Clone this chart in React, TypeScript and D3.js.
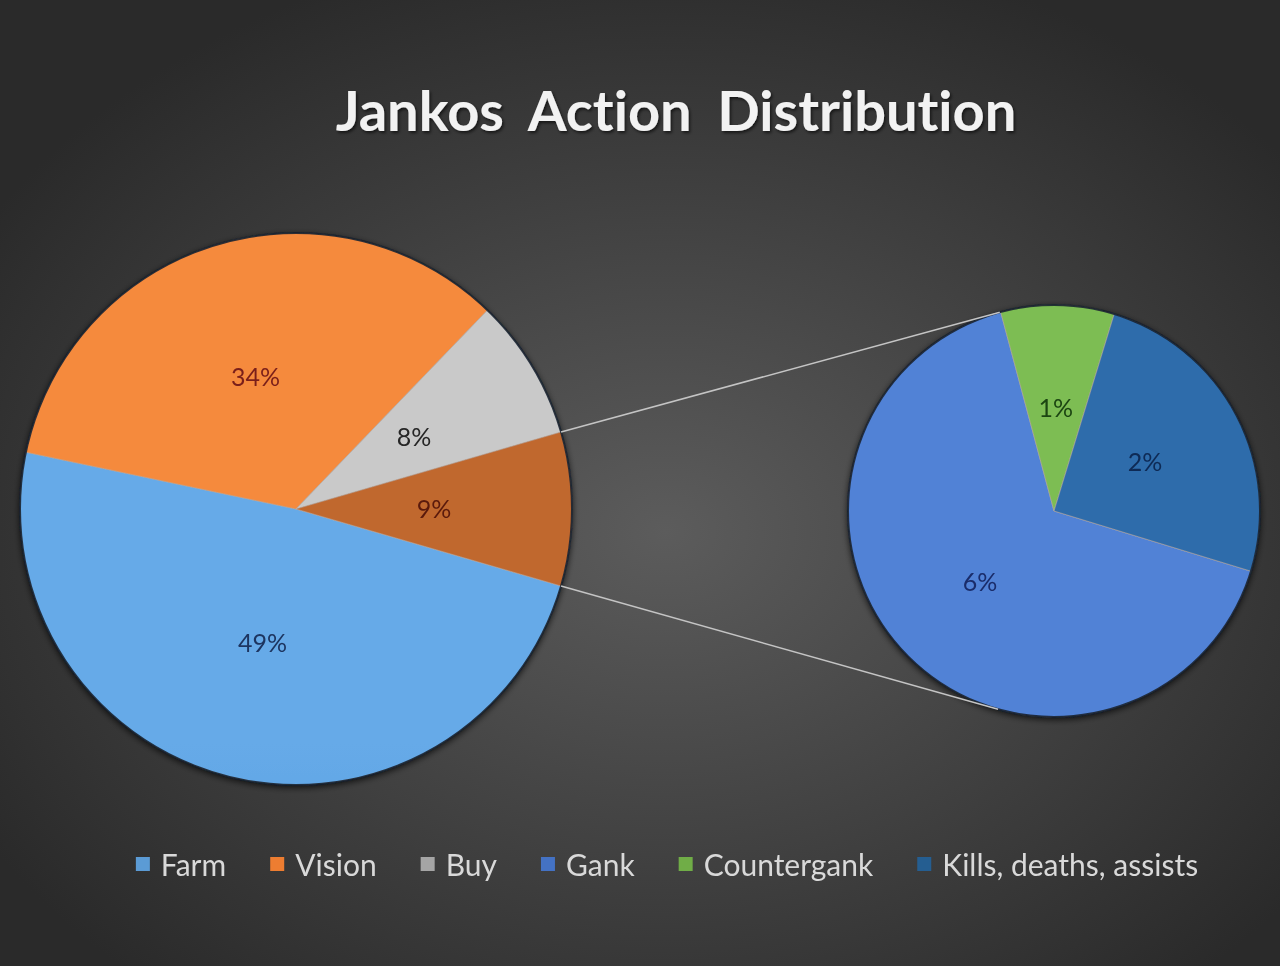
import React, { useEffect, useRef } from "react";
import * as d3 from "d3";

// Main pie: the last entry is the combined "other" slice split out into the secondary pie.
const mainCategories = ["Farm", "Vision", "Buy", "Other"];
const mainValues = [48.8, 33.9, 8.3, 9.0];

// Secondary pie: breakdown of the "other" slice.
const subCategories = ["Gank", "Countergank", "Kills, deaths, assists"];
const subValues = [5.95, 0.8, 2.25];

const legendLabels = ["Farm", "Vision", "Buy", "Gank", "Countergank", "Kills, deaths, assists"];

const W = 1280;
const H = 966;
const DEG = Math.PI / 180;

const mainColors: Record<string, [string, string]> = {
  Farm: ["#66aae8", "#468cd6"],
  Vision: ["#f58a3e", "#eb731d"],
  Buy: ["#c9c9c9", "#a8a8a8"],
  Other: ["#c0672f", "#ad4403"],
};
const subColors: Record<string, [string, string]> = {
  Gank: ["#5182d6", "#3a67c3"],
  Countergank: ["#7dbd53", "#67a73b"],
  "Kills, deaths, assists": ["#2f6cab", "#1d5592"],
};
const legendColors: Record<string, string> = {
  Farm: "#5b9bd5",
  Vision: "#ed7d31",
  Buy: "#a5a5a5",
  Gank: "#4472c4",
  Countergank: "#70ad47",
  "Kills, deaths, assists": "#255e91",
};
const labelColors: Record<string, string> = {
  Farm: "#1d3560",
  Vision: "#7a1f1a",
  Buy: "#262626",
  Other: "#5a1a0c",
  Gank: "#1a2c6a",
  Countergank: "#1c4512",
  "Kills, deaths, assists": "#0e2a55",
};

const FONT = "Lato, 'Open Sans', sans-serif";

export default function App() {
  const ref = useRef<SVGSVGElement | null>(null);

  useEffect(() => {
    const svg = d3.select(ref.current);
    svg.selectAll("*").remove();

    const defs = svg.append("defs");
    const bg = defs
      .append("radialGradient")
      .attr("id", "bg")
      .attr("cx", "52%")
      .attr("cy", "55%")
      .attr("r", "62%");
    bg.append("stop").attr("offset", "0%").attr("stop-color", "#5c5c5c");
    bg.append("stop").attr("offset", "100%").attr("stop-color", "#2a2a2a");

    const shadow = defs.append("filter").attr("id", "pieShadow").attr("x", "-10%").attr("y", "-10%").attr("width", "120%").attr("height", "120%");
    shadow.append("feGaussianBlur").attr("in", "SourceAlpha").attr("stdDeviation", 3).attr("result", "b");
    shadow.append("feOffset").attr("in", "b").attr("dx", 0).attr("dy", 2).attr("result", "o");
    shadow.append("feComponentTransfer").attr("in", "o").attr("result", "s")
      .append("feFuncA").attr("type", "linear").attr("slope", 0.7);
    const sm = shadow.append("feMerge");
    sm.append("feMergeNode").attr("in", "s");
    sm.append("feMergeNode").attr("in", "SourceGraphic");

    const tshadow = defs.append("filter").attr("id", "titleShadow").attr("x", "-5%").attr("y", "-20%").attr("width", "110%").attr("height", "150%");
    tshadow.append("feDropShadow").attr("dx", 1.5).attr("dy", 2).attr("stdDeviation", 1.5).attr("flood-color", "#000").attr("flood-opacity", 0.6);

    svg.append("rect").attr("width", W).attr("height", H).attr("fill", "url(#bg)");

    // Title
    svg
      .append("text")
      .attr("x", 676)
      .attr("y", 131)
      .attr("text-anchor", "middle")
      .attr("font-family", FONT)
      .attr("font-weight", 700)
      .attr("font-size", 56)
      .attr("word-spacing", 12)
      .style("font-variant-ligatures", "none")
      .attr("fill", "#f2f2f2")
      .attr("filter", "url(#titleShadow)")
      .text("Jankos Action Distribution");

    // Geometry
    const main = { cx: 296, cy: 509, r: 276 };
    const sub = { cx: 1054, cy: 511, r: 206 };

    const mainTotal = d3.sum(mainValues);
    const otherSpan = (mainValues[mainValues.length - 1] / mainTotal) * 2 * Math.PI;
    // the split-out slice is centred on 3 o'clock
    const mainStart = Math.PI / 2 + otherSpan / 2;

    const mainData = mainCategories.map((c, i) => ({ c, v: mainValues[i] }));
    const subData = subCategories.map((c, i) => ({ c, v: subValues[i] }));

    const mainPie = d3.pie<{ c: string; v: number }>().value((d) => d.v).sort(null)
      .startAngle(mainStart).endAngle(mainStart + 2 * Math.PI);
    const subStart = 107 * DEG;
    const subPie = d3.pie<{ c: string; v: number }>().value((d) => d.v).sort(null)
      .startAngle(subStart).endAngle(subStart + 2 * Math.PI);

    const pct = (v: number) => d3.format(".0%")(v / mainTotal);

    const drawPie = (
      arcs: d3.PieArcDatum<{ c: string; v: number }>[],
      geo: { cx: number; cy: number; r: number },
      colors: Record<string, [string, string]>,
      prefix: string
    ) => {
      const arc = d3.arc<d3.PieArcDatum<{ c: string; v: number }>>().innerRadius(0).outerRadius(geo.r);
      arcs.forEach((a, i) => {
        const g = defs
          .append("linearGradient")
          .attr("id", `${prefix}${i}`)
          .attr("gradientUnits", "userSpaceOnUse")
          .attr("x1", 0).attr("x2", 0)
          .attr("y1", geo.cy - geo.r).attr("y2", geo.cy + geo.r);
        g.append("stop").attr("offset", "0%").attr("stop-color", colors[a.data.c][0]);
        g.append("stop").attr("offset", "100%").attr("stop-color", colors[a.data.c][1]);
      });
      const grp = svg.append("g").attr("filter", "url(#pieShadow)");
      const inner = grp.append("g").attr("transform", `translate(${geo.cx},${geo.cy})`);
      inner
        .selectAll("path.slice")
        .data(arcs)
        .join("path")
        .attr("class", "slice")
        .attr("d", arc)
        .attr("fill", (_d, i) => `url(#${prefix}${i})`)
        .attr("stroke", "rgba(190,175,165,0.55)")
        .attr("stroke-width", 1);
      inner
        .append("circle")
        .attr("r", geo.r)
        .attr("fill", "none")
        .attr("stroke", "rgba(18,28,42,0.85)")
        .attr("stroke-width", 2);
      const lbl = svg.append("g").attr("transform", `translate(${geo.cx},${geo.cy})`);
      lbl
        .selectAll("text")
        .data(arcs)
        .join("text")
        .attr("transform", (d) => `translate(${arc.centroid(d)})`)
        .attr("text-anchor", "middle")
        .attr("dy", "0.35em")
        .attr("font-family", FONT)
        .attr("font-size", 25)
        .attr("fill", (d) => labelColors[d.data.c])
        .text((d) => pct(d.data.v));
    };

    // Connector lines: from the ends of the split slice to tangents of the secondary pie
    const mainArcs = mainPie(mainData);
    const otherArc = mainArcs[mainArcs.length - 1];
    const onMain = (a: number) => [main.cx + main.r * Math.sin(a), main.cy - main.r * Math.cos(a)];
    const tangent = (p: number[], upper: boolean) => {
      const dx = p[0] - sub.cx;
      const dy = p[1] - sub.cy;
      const d = Math.hypot(dx, dy);
      const th = Math.atan2(dy, dx);
      const off = Math.acos(sub.r / d);
      const cands = [th + off, th - off].map((a) => [sub.cx + sub.r * Math.cos(a), sub.cy + sub.r * Math.sin(a)]);
      return cands.sort((u, v) => (upper ? u[1] - v[1] : v[1] - u[1]))[0];
    };
    const pTop = onMain(otherArc.startAngle);
    const pBot = onMain(otherArc.endAngle);
    const conn = [
      [pTop, tangent(pTop, true)],
      [pBot, tangent(pBot, false)],
    ];

    drawPie(mainArcs, main, mainColors, "mg");
    drawPie(subPie(subData), sub, subColors, "sg");

    svg
      .append("g")
      .selectAll("line")
      .data(conn)
      .join("line")
      .attr("x1", (d) => d[0][0])
      .attr("y1", (d) => d[0][1])
      .attr("x2", (d) => d[1][0])
      .attr("y2", (d) => d[1][1])
      .attr("stroke", "#c4c4c4")
      .attr("stroke-width", 1.5);

    // Legend
    const GAP = 44;
    const leg = svg.append("g");
    const items = leg
      .selectAll("g")
      .data(legendLabels)
      .join("g");
    items
      .append("rect")
      .attr("y", 857)
      .attr("width", 14)
      .attr("height", 14)
      .attr("fill", (d) => legendColors[d]);
    const texts = items
      .append("text")
      .attr("x", 25)
      .attr("y", 876)
      .attr("font-family", FONT)
      .attr("font-size", 30)
      .style("font-variant-ligatures", "none")
      .attr("fill", "#d9d9d9")
      .text((d) => d);
    let x = 0;
    const xs: number[] = [];
    texts.each(function () {
      xs.push(x);
      x += 25 + (this as SVGTextElement).getComputedTextLength() + GAP;
    });
    const total = x - GAP;
    const x0 = 667 - total / 2;
    items.attr("transform", (_d, i) => `translate(${x0 + xs[i]},0)`);
  }, []);

  return (
    <svg
      ref={ref}
      width={W}
      height={H}
      style={{ position: "fixed", left: 0, top: 0, display: "block" }}
    />
  );
}
